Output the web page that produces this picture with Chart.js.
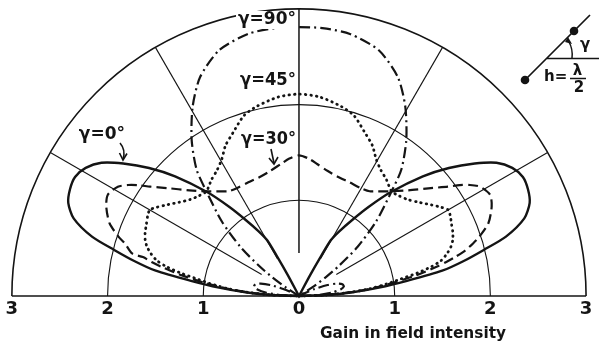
<!DOCTYPE html>
<html>
<head>
<meta charset="utf-8">
<script src="https://cdn.jsdelivr.net/npm/chart.js@4.4.1/dist/chart.umd.min.js"></script>
<style>
  html, body { margin: 0; padding: 0; background: #fff; }
  #wrap { width: 599px; height: 346px; }
</style>
</head>
<body>
<div id="wrap"><canvas id="c" width="599" height="346"></canvas></div>
<script>
// Elevation patterns of an inclined half-wave antenna at h = λ/2.
// Angles in degrees above the horizon (0 = right, 180 = left), gain in field intensity.

const gamma0Deg  = [0, 2, 4, 6, 8, 10, 12, 14, 16, 19, 22, 25, 28, 31, 34, 37, 40.5, 44, 48.5, 52, 55, 58, 60.3, 61, 61.8, 62.5,
                    117.5, 118.2, 119, 119.7, 122, 125, 128, 131.5, 136, 139.5, 143, 146, 149, 152, 155, 158, 161, 164, 166, 168, 170, 172, 174, 176, 178, 180];
const gamma0Gain = [0, 0.28, 0.56, 0.84, 1.14, 1.52, 1.76, 1.99, 2.25, 2.49, 2.60, 2.64, 2.65, 2.60, 2.49, 2.30, 2.06, 1.80, 1.45, 1.18, 0.97, 0.80, 0.67, 0.47, 0.25, 0,
                    0, 0.25, 0.47, 0.67, 0.80, 0.97, 1.18, 1.45, 1.80, 2.06, 2.30, 2.49, 2.60, 2.65, 2.64, 2.60, 2.49, 2.25, 1.99, 1.76, 1.52, 1.14, 0.84, 0.56, 0.28, 0];

const gamma30Deg  = [0, 2, 4, 6, 8, 10, 12, 13, 14, 15.3, 16.8, 18.1, 21, 24.9, 27.9, 31.1, 33, 34.6, 36.3, 39.3, 44, 48.5, 53, 56, 60, 66, 72, 77, 82, 86, 90,
                     94, 98, 103, 108, 114, 120, 124, 127, 131.5, 136, 140.7, 143.7, 145.4, 147, 148.9, 152.1, 155.1, 159, 161.9, 163.2, 165.7, 166, 167, 168, 170, 172, 174, 176, 178, 180];
const gamma30Gain = [0, 0.27, 0.53, 0.77, 1.00, 1.24, 1.47, 1.58, 1.68, 1.80, 1.90, 1.98, 2.12, 2.22, 2.26, 2.21, 2.13, 2.04, 1.93, 1.78, 1.59, 1.46, 1.37, 1.32, 1.30, 1.30, 1.31, 1.34, 1.39, 1.44, 1.47,
                     1.44, 1.39, 1.34, 1.31, 1.30, 1.30, 1.32, 1.37, 1.46, 1.59, 1.78, 1.93, 2.04, 2.13, 2.21, 2.26, 2.22, 2.12, 1.98, 1.90, 1.80, 1.68, 1.58, 1.47, 1.24, 1.00, 0.77, 0.53, 0.27, 0];

const gamma45Deg  = [0, 2, 4, 6, 8, 9.5, 11, 12.5, 14, 16, 18, 20, 22.5, 25, 28, 30, 32, 34.5, 38, 41.5, 45, 48.5, 53, 57, 60.5, 64, 68, 73, 77.5, 84, 90,
                     96, 102.5, 107, 112, 116, 119.5, 123, 127, 131.5, 135, 138.5, 142, 145.5, 148, 150, 152, 155, 157.5, 160, 162, 164, 166, 167.5, 169, 170.5, 172, 174, 176, 178, 180];
const gamma45Gain = [0, 0.27, 0.53, 0.76, 0.94, 1.08, 1.26, 1.42, 1.53, 1.61, 1.67, 1.71, 1.74, 1.76, 1.79, 1.80, 1.75, 1.68, 1.59, 1.52, 1.48, 1.46, 1.52, 1.57, 1.64, 1.75, 1.84, 1.97, 2.03, 2.09, 2.11,
                     2.09, 2.03, 1.97, 1.84, 1.75, 1.64, 1.57, 1.52, 1.46, 1.48, 1.52, 1.59, 1.68, 1.75, 1.80, 1.79, 1.76, 1.74, 1.71, 1.67, 1.61, 1.53, 1.42, 1.26, 1.08, 0.94, 0.76, 0.53, 0.27, 0];

const gamma90Deg  = [0, 3, 6, 9, 12, 15, 18, 21, 24, 27, 29, 31, 33, 35, 37, 40, 44, 48.5, 51, 55.5, 60.7, 65.7, 72, 79, 85, 90,
                     95, 101, 108, 114.3, 119.3, 124.5, 129, 131.5, 136, 140, 143, 145, 147, 149, 151, 153, 156, 159, 162, 165, 168, 171, 174, 177, 180];
const gamma90Gain = [0, 0.20, 0.35, 0.44, 0.48, 0.47, 0.42, 0.32, 0.18, 0.05, 0, 0, 0.16, 0.34, 0.52, 0.80, 1.12, 1.46, 1.70, 1.98, 2.27, 2.51, 2.70, 2.79, 2.81, 2.81,
                     2.81, 2.79, 2.70, 2.51, 2.27, 1.98, 1.70, 1.46, 1.12, 0.80, 0.52, 0.34, 0.16, 0, 0, 0.05, 0.18, 0.32, 0.42, 0.47, 0.48, 0.44, 0.35, 0.20, 0];

// Axis ticks along the baseline
const tickValues = [-3, -2, -1, 0, 1, 2, 3];
const tickLabels = ['3', '2', '1', '0', '1', '2', '3'];
const ringRadii = [1, 2, 3];
const spokeAngles = [30, 60, 90, 120, 150];

const INK = '#141414';

function polarPoints(deg, gain) {
  return deg.map((d, i) => {
    const a = d * Math.PI / 180;
    return { x: gain[i] * Math.cos(a), y: gain[i] * Math.sin(a) };
  });
}

function lineSet(label, deg, gain, extra) {
  return Object.assign({
    label: label,
    data: polarPoints(deg, gain),
    showLine: true,
    pointRadius: 0,
    borderColor: INK,
    borderWidth: 2,
    tension: 0.25,
    fill: false
  }, extra);
}

// Polar grid: half rings, spokes and the baseline
const polarGrid = {
  id: 'polarGrid',
  beforeDatasetsDraw(chart) {
    const { ctx, scales: { x, y } } = chart;
    const cx = x.getPixelForValue(0), cy = y.getPixelForValue(0);
    const unit = x.getPixelForValue(1) - cx;
    ctx.save();
    ctx.strokeStyle = INK;
    ringRadii.forEach(r => {
      ctx.lineWidth = r === 3 ? 1.6 : 1.1;
      ctx.beginPath();
      ctx.arc(cx, cy, r * unit, Math.PI, 2 * Math.PI);
      ctx.stroke();
    });
    spokeAngles.forEach(d => {
      const a = d * Math.PI / 180;
      const r0 = 0.45, r1 = 3;
      ctx.lineWidth = d === 90 ? 1.5 : 1.1;
      ctx.beginPath();
      ctx.moveTo(cx + r0 * unit * Math.cos(a), cy - r0 * unit * Math.sin(a));
      ctx.lineTo(cx + r1 * unit * Math.cos(a), cy - r1 * unit * Math.sin(a));
      ctx.stroke();
    });
    ctx.lineWidth = 1.7;
    ctx.beginPath();
    ctx.moveTo(x.getPixelForValue(-3), cy);
    ctx.lineTo(x.getPixelForValue(3), cy);
    ctx.stroke();
    ctx.restore();
  }
};

function boxedText(ctx, text, xRight, yMid, width) {
  ctx.textAlign = 'right';
  ctx.textBaseline = 'middle';
  const w = Math.min(ctx.measureText(text).width, width);
  ctx.fillStyle = '#fff';
  ctx.fillRect(xRight - w - 2, yMid - 9, w + 3, 18);
  ctx.fillStyle = INK;
  ctx.fillText(text, xRight, yMid, width);
}

// Curve labels, tick labels, axis title and the antenna sketch
const annotations = {
  id: 'annotations',
  afterDatasetsDraw(chart) {
    const { ctx, scales: { x, y } } = chart;
    ctx.save();
    ctx.fillStyle = INK;
    ctx.strokeStyle = INK;

    ctx.font = 'bold 17px "DejaVu Sans"';
    boxedText(ctx, 'γ=90°', 296, 20, 58);
    boxedText(ctx, 'γ=45°', 296, 81, 56);
    boxedText(ctx, 'γ=30°', 296, 140, 55);
    boxedText(ctx, 'γ=0°', 125, 135, 47);

    // pointer for γ=0°
    ctx.lineWidth = 1.6;
    ctx.beginPath();
    ctx.moveTo(120, 143);
    ctx.quadraticCurveTo(126, 150, 123, 159);
    ctx.stroke();
    ctx.beginPath();
    ctx.moveTo(119.5, 153);
    ctx.lineTo(123, 160);
    ctx.lineTo(127, 153.5);
    ctx.stroke();

    // pointer for γ=30°
    ctx.beginPath();
    ctx.moveTo(271, 149);
    ctx.lineTo(274, 163);
    ctx.stroke();
    ctx.beginPath();
    ctx.moveTo(269, 158);
    ctx.lineTo(274, 164);
    ctx.lineTo(278, 157);
    ctx.stroke();

    // baseline tick labels
    ctx.font = 'bold 18px "DejaVu Sans"';
    ctx.textAlign = 'center';
    ctx.textBaseline = 'middle';
    const ty = y.getPixelForValue(0) + 13;
    tickValues.forEach((v, i) => {
      ctx.fillText(tickLabels[i], x.getPixelForValue(v), ty);
    });

    // axis title
    ctx.font = 'bold 16px "DejaVu Sans"';
    ctx.textAlign = 'left';
    ctx.fillText('Gain in field intensity', 320, 334, 186);

    // antenna sketch
    ctx.lineWidth = 1.7;
    ctx.beginPath();
    ctx.moveTo(525, 80);
    ctx.lineTo(590, 15);
    ctx.moveTo(546, 58.5);
    ctx.lineTo(599, 58.5);
    ctx.stroke();
    [[525, 80], [574, 31]].forEach(p => {
      ctx.beginPath();
      ctx.arc(p[0], p[1], 4.3, 0, 2 * Math.PI);
      ctx.fill();
    });
    ctx.lineWidth = 1.5;
    ctx.beginPath();
    ctx.moveTo(572, 58);
    ctx.quadraticCurveTo(573, 49, 569, 42);
    ctx.stroke();
    ctx.beginPath();
    ctx.moveTo(565, 42);
    ctx.lineTo(568, 37);
    ctx.lineTo(572, 44);
    ctx.closePath();
    ctx.fill();

    ctx.font = 'bold 15px "DejaVu Sans"';
    ctx.textAlign = 'center';
    ctx.textBaseline = 'middle';
    ctx.fillText('γ', 585, 45);
    ctx.textAlign = 'left';
    ctx.fillText('h=', 544, 77);
    ctx.textAlign = 'center';
    ctx.fillText('λ', 577.5, 71);
    ctx.fillText('2', 579, 88);
    ctx.lineWidth = 1.5;
    ctx.beginPath();
    ctx.moveTo(570, 78.5);
    ctx.lineTo(586, 78.5);
    ctx.stroke();

    ctx.restore();
  }
};

// Scale ranges give an equal pixel size per unit on both axes (about 95.7 px)
const xMin = -3.124, xMax = 3.135;
const yMin = -0.5225, yMax = 3.093;

new Chart(document.getElementById('c'), {
  type: 'scatter',
  data: {
    datasets: [
      lineSet('γ=0°', gamma0Deg, gamma0Gain, { borderWidth: 2.4 }),
      lineSet('γ=30°', gamma30Deg, gamma30Gain, { borderDash: [10, 5], borderWidth: 2.2 }),
      lineSet('γ=45°', gamma45Deg, gamma45Gain, { borderDash: [0.5, 5], borderCapStyle: 'round', borderWidth: 2.8 }),
      lineSet('γ=90°', gamma90Deg, gamma90Gain, { borderDash: [11, 4, 2, 4], borderWidth: 2.2 })
    ]
  },
  options: {
    responsive: false,
    animation: false,
    layout: { padding: 0 },
    plugins: { legend: { display: false }, tooltip: { enabled: false } },
    scales: {
      x: { type: 'linear', min: xMin, max: xMax, display: false },
      y: { type: 'linear', min: yMin, max: yMax, display: false }
    }
  },
  plugins: [polarGrid, annotations]
});
</script>
</body>
</html>
